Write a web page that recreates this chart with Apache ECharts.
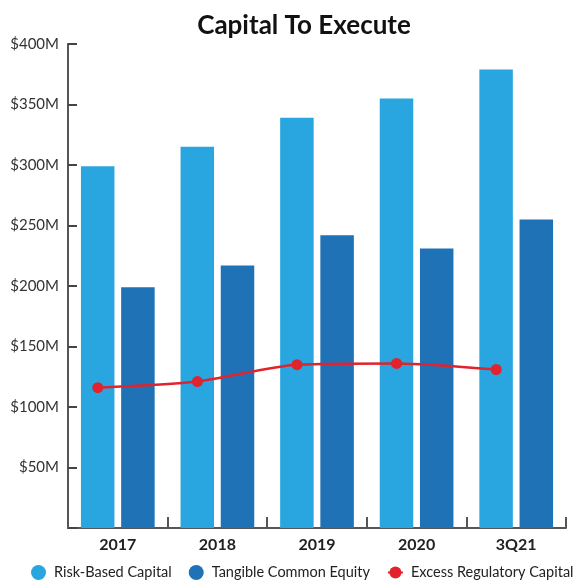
<!DOCTYPE html>
<html>
<head>
<meta charset="utf-8">
<script src="https://cdn.jsdelivr.net/npm/echarts@6/dist/echarts.min.js"></script>
<style>
  html, body { margin: 0; padding: 0; background: #fff; }
  #chart { width: 582px; height: 584px; }
</style>
</head>
<body>
<div id="chart"></div>
<script>
// Capital levels by period, in $ millions
const categories = ['2017', '2018', '2019', '2020', '3Q21'];
const riskBasedCapital = [299, 315, 339, 355, 379];
const tangibleCommonEquity = [199, 217, 242, 231, 255];
const excessRegulatoryCapital = [116, 121, 135, 136, 131];
const yTicks = [0, 50, 100, 150, 200, 250, 300, 350, 400];

const FONT = 'Lato';
const chart = echarts.init(document.getElementById('chart'), null, { renderer: 'canvas' });

const axisLine = { show: true, lineStyle: { color: '#555', width: 2 } };

chart.setOption({
  animation: false,
  textStyle: { fontFamily: FONT },
  title: {
    text: 'Capital To Execute',
    left: 299,
    textAlign: 'center',
    top: 8,
    textStyle: { fontFamily: FONT, fontWeight: 'bold', fontSize: 26, color: '#111' }
  },
  legend: {
    bottom: -1,
    left: 26,
    right: 0,
    itemWidth: 15,
    itemHeight: 15,
    itemGap: 17,
    textStyle: { fontFamily: FONT, fontSize: 14.5, color: '#222', padding: [0, 0, 0, 3] },
    data: [
      { name: 'Risk-Based Capital', icon: 'circle' },
      { name: 'Tangible Common Equity', icon: 'circle' },
      { name: 'Excess Regulatory Capital' }
    ]
  },
  grid: [
    { left: 68, right: 16, top: 44, bottom: 56 },
    // offset grid so the line's points sit over the first bar of each group
    { left: 48, right: 36, top: 44, bottom: 56 }
  ],
  xAxis: [
    {
      type: 'category',
      gridIndex: 0,
      data: categories,
      axisLine: axisLine,
      axisTick: { show: true, inside: true, length: 11, lineStyle: { color: '#555', width: 2 } },
      axisLabel: { fontFamily: FONT, fontWeight: 'bold', fontSize: 16, color: '#222', margin: 9 }
    },
    {
      type: 'category',
      gridIndex: 1,
      data: categories,
      show: false
    }
  ],
  yAxis: [
    {
      type: 'value',
      gridIndex: 0,
      min: yTicks[0],
      max: yTicks[yTicks.length - 1],
      interval: 50,
      axisLine: axisLine,
      axisTick: { show: true, inside: true, length: 9, lineStyle: { color: '#444', width: 2 } },
      splitLine: { show: false },
      axisLabel: {
        fontFamily: FONT,
        fontSize: 15,
        color: '#333',
        margin: 9,
        formatter: v => (v === 0 ? '' : '$' + v + 'M')
      }
    },
    {
      type: 'value',
      gridIndex: 1,
      min: yTicks[0],
      max: yTicks[yTicks.length - 1],
      show: false
    }
  ],
  series: [
    {
      name: 'Risk-Based Capital',
      type: 'bar',
      xAxisIndex: 0,
      yAxisIndex: 0,
      data: riskBasedCapital,
      barCategoryGap: '26%',
      barGap: '20%',
      itemStyle: { color: '#29a6df' }
    },
    {
      name: 'Tangible Common Equity',
      type: 'bar',
      xAxisIndex: 0,
      yAxisIndex: 0,
      data: tangibleCommonEquity,
      itemStyle: { color: '#1f72b6' }
    },
    {
      name: 'Excess Regulatory Capital',
      type: 'line',
      xAxisIndex: 1,
      yAxisIndex: 1,
      data: excessRegulatoryCapital,
      smooth: 0.25,
      symbol: 'circle',
      symbolSize: 11,
      lineStyle: { color: '#e0232c', width: 2.5 },
      itemStyle: { color: '#e0232c' },
      z: 5
    }
  ]
});
</script>
</body>
</html>
